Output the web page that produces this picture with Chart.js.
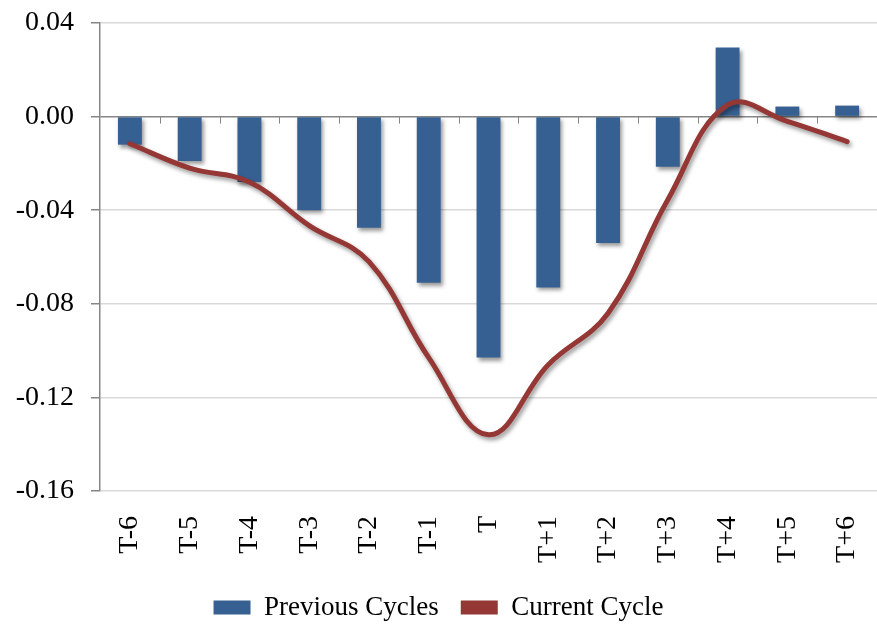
<!DOCTYPE html>
<html>
<head>
<meta charset="utf-8">
<script src="https://cdn.jsdelivr.net/npm/chart.js@4.4.0/dist/chart.umd.min.js"></script>
<style>
  html, body { margin: 0; padding: 0; background: #ffffff; }
  #wrap { width: 877px; height: 624px; }
</style>
</head>
<body>
<div id="wrap"><canvas id="chart" width="877" height="624"></canvas></div>
<script>
// Datos
const periods = ['T-6', 'T-5', 'T-4', 'T-3', 'T-2', 'T-1', 'T', 'T+1', 'T+2', 'T+3', 'T+4', 'T+5', 'T+6'];
const previousCycles = [-0.012, -0.019, -0.028, -0.040, -0.0475, -0.071, -0.103, -0.073, -0.054, -0.0214, 0.0295, 0.0043, 0.0047];
const currentCycle = [-0.0116, -0.022, -0.028, -0.0466, -0.062, -0.103, -0.136, -0.106, -0.084, -0.0355, 0.005, -0.002, -0.0107];
const yTicks = [0.04, 0.00, -0.04, -0.08, -0.12, -0.16];

const colors = {
    bar: '#376092',
    line: '#953735',
    grid: '#d9d9d9',
    axis: '#868686'
};

const serif = "'Liberation Serif', 'DejaVu Serif', serif";

// Sombra para barras y línea
const shadowPlugin = {
    id: 'shadow',
    beforeDatasetDraw(chart) {
        const ctx = chart.ctx;
        ctx.save();
        ctx.shadowColor = 'rgba(0, 0, 0, 0.4)';
        ctx.shadowBlur = 4;
        ctx.shadowOffsetX = 2;
        ctx.shadowOffsetY = 3;
    },
    afterDatasetDraw(chart) {
        chart.ctx.restore();
    }
};

// Marcas de categoría sobre la línea del cero
const zeroTicksPlugin = {
    id: 'zeroTicks',
    beforeDatasetsDraw(chart) {
        const ctx = chart.ctx;
        const x = chart.scales.x;
        const y0 = chart.scales.y.getPixelForValue(0);
        const step = x.getPixelForValue(1) - x.getPixelForValue(0);
        ctx.save();
        ctx.strokeStyle = colors.axis;
        ctx.lineWidth = 1;
        ctx.beginPath();
        for (let i = 1; i <= periods.length; i++) {
            const px = Math.round(x.getPixelForValue(i) - step / 2) + 0.5;
            ctx.moveTo(px, y0);
            ctx.lineTo(px, y0 + 7);
        }
        ctx.stroke();
        ctx.restore();
    }
};

new Chart(document.getElementById('chart'), {
    data: {
        labels: periods,
        datasets: [
            {
                type: 'line',
                label: 'Current Cycle',
                data: currentCycle,
                borderColor: colors.line,
                backgroundColor: colors.line,
                borderWidth: 5,
                borderCapStyle: 'round',
                tension: 0.4,
                pointRadius: 0,
                order: 1
            },
            {
                type: 'bar',
                label: 'Previous Cycles',
                data: previousCycles,
                backgroundColor: colors.bar,
                borderWidth: 0,
                barPercentage: 0.4,
                categoryPercentage: 1,
                order: 2
            }
        ]
    },
    options: {
        responsive: false,
        animation: false,
        layout: {
            padding: { top: 23, right: 0, left: 0, bottom: -7 }
        },
        scales: {
            x: {
                grid: { display: false },
                border: { display: false },
                afterFit(axis) {
                    axis.paddingLeft = 0;
                    axis.paddingRight = 0;
                    axis.height = 81;
                },
                ticks: {
                    color: '#000000',
                    minRotation: 90,
                    maxRotation: 90,
                    padding: 17,
                    font: { family: serif, size: 28 }
                }
            },
            y: {
                min: -0.16,
                max: 0.04,
                afterBuildTicks(axis) {
                    axis.ticks = yTicks.map(v => ({ value: v }));
                },
                afterFit(axis) {
                    axis.width = 100;
                    axis.paddingTop = 0;
                    axis.paddingBottom = 0;
                },
                grid: {
                    color: ctx => (ctx.tick && ctx.tick.value === 0 ? colors.axis : colors.grid),
                    tickColor: colors.axis,
                    tickLength: 9,
                    lineWidth: 1.5
                },
                border: { color: colors.axis, width: 1.5 },
                ticks: {
                    color: '#000000',
                    padding: 17,
                    font: { family: serif, size: 28 },
                    callback: value => value.toFixed(2)
                }
            }
        },
        plugins: {
            legend: {
                position: 'bottom',
                labels: {
                    color: '#000000',
                    font: { family: serif, size: 27 },
                    boxWidth: 37,
                    boxHeight: 14,
                    padding: 22,
                    generateLabels(chart) {
                        return chart.data.datasets.slice().reverse().map((ds, i) => ({
                            text: ds.label,
                            fillStyle: ds.type === 'bar' ? ds.backgroundColor : ds.borderColor,
                            strokeStyle: ds.type === 'bar' ? ds.backgroundColor : ds.borderColor,
                            lineWidth: 0,
                            datasetIndex: chart.data.datasets.length - 1 - i
                        }));
                    }
                }
            },
            tooltip: { enabled: false }
        }
    },
    plugins: [shadowPlugin, zeroTicksPlugin]
});
</script>
</body>
</html>
